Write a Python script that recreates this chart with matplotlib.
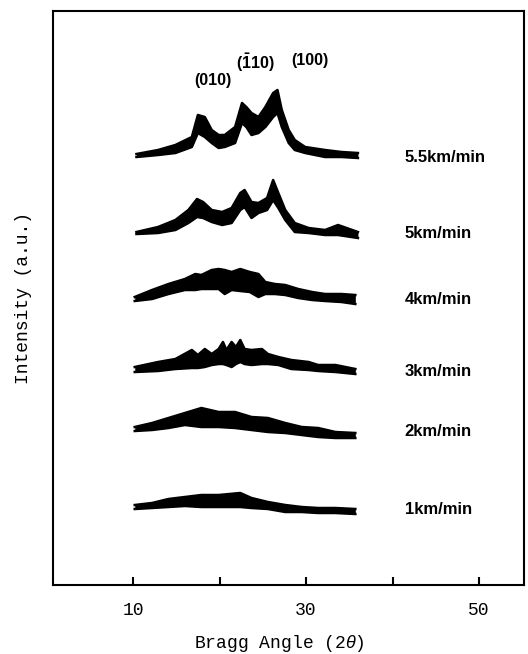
import matplotlib.pyplot as plt

plt.rcParams['mathtext.fontset'] = 'custom'
plt.rcParams['mathtext.bf'] = 'Liberation Sans:bold'
plt.rcParams['mathtext.rm'] = 'Liberation Sans'
plt.rcParams['mathtext.it'] = 'Liberation Sans:italic'

# speeds and vertical offsets of each trace (a.u.)
labels = ['5.5km/min', '5km/min', '4km/min', '3km/min', '2km/min', '1km/min']
offsets = [428, 351, 285, 213, 154, 76]

# 2theta positions with upper / lower edge of the noisy band, relative to offset
x55 = [10.4, 12.9, 14.9, 16.8, 17.5, 18.3, 19.1, 19.9, 20.6, 21.8, 22.6, 23.1,
       23.7, 24.5, 25.3, 26.2, 26.7, 27.2, 28.0, 28.7, 29.9, 32.2, 34.1, 36.0]
up55 = [3, 7, 12, 20, 42, 40, 27, 22, 22, 30, 54, 50,
        44, 40, 50, 64, 67, 47, 27, 17, 10, 7, 5, 4]
lo55 = [0, 2, 4, 10, 24, 20, 14, 9, 10, 14, 34, 30,
        22, 24, 30, 40, 44, 30, 14, 7, 4, 0, 0, -1]

x5 = [10.4, 12.9, 14.9, 16.4, 17.4, 18.1, 19.1, 20.3, 21.4, 22.4, 22.9,
      23.7, 24.5, 25.5, 26.2, 26.8, 27.6, 28.7, 30.3, 32.2, 33.7, 36.0]
up5 = [2, 7, 14, 24, 35, 32, 24, 22, 26, 41, 44,
       32, 31, 36, 54, 41, 24, 11, 6, 4, 9, 2]
lo5 = [0, 1, 4, 11, 17, 16, 12, 9, 11, 24, 27,
       16, 21, 24, 34, 26, 14, 2, 1, -1, -1, -4]

x4 = [10.2, 12.2, 14.1, 16.0, 17.2, 17.9, 19.1, 19.9, 20.6, 21.4, 22.4,
      23.5, 24.5, 25.3, 26.4, 27.6, 29.1, 30.7, 32.2, 34.1, 35.7]
up4 = [3, 10, 16, 21, 26, 25, 30, 31, 30, 28, 31,
       28, 26, 18, 16, 15, 11, 8, 6, 6, 5]
lo4 = [-1, 1, 6, 10, 10, 11, 11, 11, 6, 10, 9,
       8, 3, 6, 6, 5, 2, 0, -1, -2, -4]

x3 = [10.2, 12.9, 14.9, 16.8, 17.5, 18.3, 19.1, 19.9, 20.4, 20.8, 21.4, 21.9,
      22.4, 22.9, 23.7, 24.9, 25.6, 26.8, 28.3, 30.3, 31.4, 33.4, 35.7]
up3 = [5, 10, 13, 22, 17, 23, 18, 23, 30, 22, 30, 25,
       32, 23, 22, 23, 18, 15, 12, 10, 7, 7, 3]
lo3 = [0, 1, 3, 4, 4, 5, 7, 8, 8, 7, 5, 8,
       10, 8, 7, 8, 8, 7, 3, 2, 1, 0, -2]

x2 = [10.2, 12.2, 14.1, 16.0, 17.9, 19.9, 21.8, 23.7, 25.6, 27.6, 29.5,
      31.4, 33.4, 35.7]
up2 = [4, 8, 13, 18, 23, 19, 19, 14, 13, 8, 4, 3, -1, -2]
lo2 = [0, 1, 3, 6, 4, 4, 3, 1, -1, -2, -4, -6, -7, -7]

x1 = [10.2, 12.2, 14.1, 16.0, 17.9, 19.9, 22.4, 23.7, 25.6, 27.6, 29.5,
      31.4, 33.4, 35.7]
up1 = [4, 6, 10, 12, 14, 14, 16, 11, 7, 4, 2, 1, 1, 0]
lo1 = [0, 1, 2, 3, 2, 2, 2, 1, 0, -3, -3, -4, -4, -5]

traces = [(x55, up55, lo55), (x5, up5, lo5), (x4, up4, lo4),
          (x3, up3, lo3), (x2, up2, lo2), (x1, up1, lo1)]

peak_labels = ['(010)', r'$\mathbf{(\bar{1}10)}$', '(100)']
peak_pos = [(19.2, 505), (24.1, 522), (30.5, 525)]

fig = plt.figure(figsize=(5.28, 6.54), dpi=100)
ax = fig.add_axes([53 / 528, 69 / 654, 471 / 528, 574 / 654])

for (x, up, lo), off, lab in zip(traces, offsets, labels):
    yu = [off + v for v in up]
    yl = [off + v for v in lo]
    ax.fill_between(x, yl, yu, color='black', lw=0)
    ax.plot(x, yu, color='black', lw=1.8)
    ax.plot(x, yl, color='black', lw=1.8)
    ax.text(41.4, off, lab, fontsize=12, fontweight='bold',
            family='Liberation Sans', va='center', ha='left')

for lab, (px, py) in zip(peak_labels, peak_pos):
    ax.text(px, py, lab, fontsize=11.5, fontweight='bold',
            family='Liberation Sans', ha='center', va='center')

ax.set_xlim(0.75, 55.2)
ax.set_ylim(0, 574)
ax.set_xticks([10, 20, 30, 40, 50])
ax.set_xticklabels(['10', '', '30', '', '50'], family='Liberation Mono', fontsize=13)
ax.tick_params(axis='x', direction='in', length=6, width=1.5, pad=12)
ax.set_yticks([])
for s in ax.spines.values():
    s.set_linewidth(1.5)

ax.set_ylabel('Intensity (a.u.)', family='Liberation Mono', fontsize=13, labelpad=15)
fig.text(279 / 528, 1 - 644 / 654, r'Bragg Angle (2$\theta$)', family='Liberation Mono',
         fontsize=13, ha='center', va='center')

fig.savefig('out.png', dpi=100)
